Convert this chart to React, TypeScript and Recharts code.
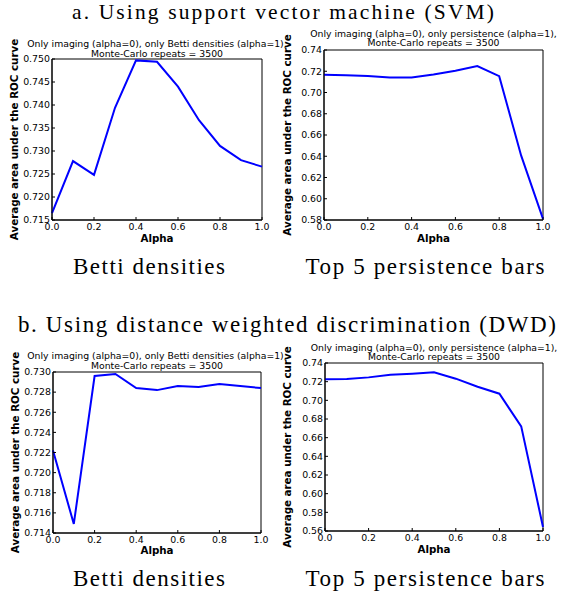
import React from "react";
import { LineChart, Line, XAxis, YAxis, ReferenceArea } from "recharts";

const ALPHA = [0, 0.1, 0.2, 0.3, 0.4, 0.5, 0.6, 0.7, 0.8, 0.9, 1.0];
const X_TICKS = [0, 0.2, 0.4, 0.6, 0.8, 1.0];

const SVM_BETTI = [0.7165, 0.7278, 0.7248, 0.7394, 0.7497, 0.7494, 0.744, 0.7367, 0.7311, 0.728, 0.7266];
const SVM_PERSIST = [0.7167, 0.7162, 0.7155, 0.7142, 0.7142, 0.717, 0.7205, 0.7249, 0.7154, 0.6408, 0.581];
const DWD_BETTI = [0.7222, 0.7149, 0.7296, 0.7298, 0.7284, 0.7282, 0.7286, 0.7285, 0.7288, 0.7286, 0.7284];
const DWD_PERSIST = [0.7225, 0.7229, 0.7246, 0.7275, 0.7286, 0.73, 0.7232, 0.7146, 0.7071, 0.6721, 0.5643];

const BETTI_SVM_TICKS = [0.715, 0.72, 0.725, 0.73, 0.735, 0.74, 0.745, 0.75];
const BETTI_DWD_TICKS = [0.714, 0.716, 0.718, 0.72, 0.722, 0.724, 0.726, 0.728, 0.73];
const PERSIST_SVM_TICKS = [0.58, 0.6, 0.62, 0.64, 0.66, 0.68, 0.7, 0.72, 0.74];
const PERSIST_DWD_TICKS = [0.56, 0.58, 0.6, 0.62, 0.64, 0.66, 0.68, 0.7, 0.72, 0.74];

const SANS = "DejaVu Sans";
const SERIF = "Liberation Serif";
const tickStyle = { fill: "#000", fontSize: 9.4, fontFamily: SANS };

type Box = { x0: number; y0: number; x1: number; y1: number };

// plot areas in page pixels
const P1: Box = { x0: 52, y0: 59, x1: 262, y1: 220 };
const P2: Box = { x0: 324, y0: 50, x1: 543, y1: 220 };
const P3: Box = { x0: 53, y0: 372, x1: 261, y1: 533 };
const P4: Box = { x0: 325, y0: 363, x1: 543, y1: 531 };

function Panel({ values, yTicks, digits, plot }: { values: number[]; yTicks: number[]; digits: number; plot: Box }) {
  const left = plot.x0 - 50;
  const top = plot.y0 - 20;
  const width = plot.x1 - left + 10;
  const height = plot.y1 - top + 20;
  const data = ALPHA.map((a, i) => ({ alpha: a, auc: values[i] }));
  const yMin = yTicks[0];
  const yMax = yTicks[yTicks.length - 1];
  return (
    <div style={{ position: "absolute", left, top }}>
      <LineChart width={width} height={height} data={data} margin={{ top: 20, right: 10, bottom: 0, left: 0 }}>
        <XAxis
          dataKey="alpha"
          type="number"
          domain={[0, 1]}
          ticks={X_TICKS}
          interval={0}
          tickFormatter={(v: number) => v.toFixed(1)}
          height={20}
          tickSize={-3}
          tickMargin={6}
          tickLine={{ stroke: "#000" }}
          axisLine={{ stroke: "#000" }}
          tick={tickStyle}
        />
        <XAxis
          xAxisId="top"
          orientation="top"
          dataKey="alpha"
          type="number"
          domain={[0, 1]}
          ticks={X_TICKS}
          interval={0}
          height={0}
          mirror
          tick={false}
          tickSize={3}
          tickLine={{ stroke: "#000" }}
          axisLine={false}
        />
        <YAxis
          type="number"
          domain={[yMin, yMax]}
          ticks={yTicks}
          interval={0}
          tickFormatter={(v: number) => v.toFixed(digits)}
          width={50}
          tickSize={-3}
          tickMargin={5}
          tickLine={{ stroke: "#000" }}
          axisLine={{ stroke: "#000" }}
          tick={tickStyle}
        />
        <YAxis
          yAxisId="right"
          orientation="right"
          type="number"
          domain={[yMin, yMax]}
          ticks={yTicks}
          interval={0}
          width={0}
          mirror
          tick={false}
          tickSize={3}
          tickLine={{ stroke: "#000" }}
          axisLine={false}
        />
        <ReferenceArea x1={0} x2={1} y1={yMin} y2={yMax} fill="none" stroke="#000" strokeWidth={1} />
        <Line type="linear" dataKey="auc" stroke="#0000ff" strokeWidth={2} dot={false} isAnimationActive={false} />
      </LineChart>
    </div>
  );
}

function SubTitle({ plot, line1, base }: { plot: Box; line1: string; base: number }) {
  const cx = (plot.x0 + plot.x1) / 2;
  return (
    <g fontFamily={SANS} fontSize={9.3} textAnchor="middle" fill="#000">
      <text x={cx} y={base}>{line1}</text>
      <text x={cx} y={base + 9.6}>Monte-Carlo repeats = 3500</text>
    </g>
  );
}

function AxisLabels({ plot, yx, alphaBase }: { plot: Box; yx: number; alphaBase: number }) {
  const cx = (plot.x0 + plot.x1) / 2;
  const cy = (plot.y0 + plot.y1) / 2;
  return (
    <g fontFamily={SANS} fontSize={10.3} fontWeight="bold" fill="#000">
      <text x={cx} y={alphaBase} textAnchor="middle">Alpha</text>
      <text x={yx} y={cy} textAnchor="middle" dominantBaseline="central" transform={`rotate(-90 ${yx} ${cy})`}>
        Average area under the ROC curve
      </text>
    </g>
  );
}

function Caption({ x, y, w, size = 23, children }: { x: number; y: number; w: number; size?: number; children: string }) {
  return (
    <text x={x} y={y} fontSize={size} textLength={w} lengthAdjust="spacing">
      {children}
    </text>
  );
}

export default function App() {
  return (
    <div style={{ position: "absolute", left: 0, top: 0, width: 565, height: 595, background: "#fff" }}>
      <Panel values={SVM_BETTI} yTicks={BETTI_SVM_TICKS} digits={3} plot={P1} />
      <Panel values={SVM_PERSIST} yTicks={PERSIST_SVM_TICKS} digits={2} plot={P2} />
      <Panel values={DWD_BETTI} yTicks={BETTI_DWD_TICKS} digits={3} plot={P3} />
      <Panel values={DWD_PERSIST} yTicks={PERSIST_DWD_TICKS} digits={2} plot={P4} />
      <svg width={565} height={595} style={{ position: "absolute", left: 0, top: 0, pointerEvents: "none" }}>
        <g fontFamily={SERIF} textAnchor="middle" fill="#000">
          <Caption x={283} y={19} w={422} size={21.5}>a. Using support vector machine (SVM)</Caption>
          <Caption x={149} y={274} w={152}>Betti densities</Caption>
          <Caption x={425} y={274} w={239}>Top 5 persistence bars</Caption>
          <Caption x={287} y={332} w={538}>b. Using distance weighted discrimination (DWD)</Caption>
          <Caption x={149} y={586} w={152}>Betti densities</Caption>
          <Caption x={425} y={586} w={239}>Top 5 persistence bars</Caption>
        </g>
        <SubTitle plot={P1} line1="Only imaging (alpha=0), only Betti densities (alpha=1)," base={47.3} />
        <SubTitle plot={P2} line1="Only imaging (alpha=0), only persistence (alpha=1)," base={36.5} />
        <SubTitle plot={P3} line1="Only imaging (alpha=0), only Betti densities (alpha=1)," base={359.3} />
        <SubTitle plot={P4} line1="Only imaging (alpha=0), only persistence (alpha=1)," base={350.7} />
        <AxisLabels plot={P1} yx={14} alphaBase={242} />
        <AxisLabels plot={P2} yx={287} alphaBase={242} />
        <AxisLabels plot={P3} yx={15} alphaBase={554} />
        <AxisLabels plot={P4} yx={287} alphaBase={553} />
      </svg>
    </div>
  );
}
